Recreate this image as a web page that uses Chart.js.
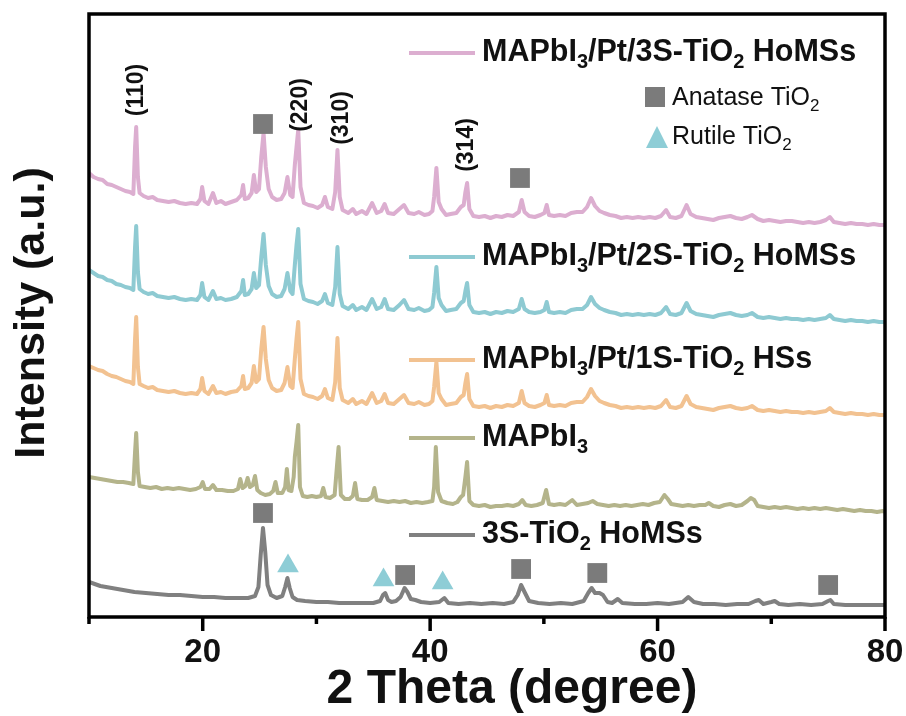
<!DOCTYPE html>
<html>
<head>
<meta charset="utf-8">
<script src="https://cdn.jsdelivr.net/npm/chart.js@4.4.1/dist/chart.umd.min.js"></script>
<style>
  html, body { margin: 0; padding: 0; background: #ffffff; }
  #wrap { width: 906px; height: 716px; position: relative; }
  canvas { display: block; }
</style>
</head>
<body>
<div id="wrap"><canvas id="xrd" width="906" height="716"></canvas></div>
<script>
// ---- XRD patterns, [2θ (degree), intensity (a.u., stacked with offsets)] ----
const pt3S = [
  [10.0,444],[10.4,440],[10.8,438],[11.2,437],[11.6,433],[12.0,432],[12.4,430],[12.8,428],[13.2,426],[13.6,425],
  [13.9,423],[14.05,470],[14.15,490],[14.3,440],[14.45,424],[14.8,421],[15.2,419],[15.6,420],[16.0,417],[16.5,416],
  [17.0,415],[17.5,416],[18.0,414],[18.5,413],[19.0,414],[19.5,413],[19.8,418],[19.95,430],[20.15,416],[20.5,413],
  [20.9,424],[21.2,414],[21.6,416],[22.0,413],[22.5,415],[23.0,417],[23.4,422],[23.55,432],[23.7,418],[24.0,419],
  [24.3,424],[24.5,442],[24.7,425],[24.95,428],[25.15,460],[25.35,484],[25.55,450],[25.8,428],[26.1,420],[26.5,417],
  [26.9,418],[27.2,424],[27.45,440],[27.7,422],[27.9,420],[28.1,452],[28.25,470],[28.4,487],[28.6,430],[28.9,414],
  [29.3,412],[29.7,411],[30.1,409],[30.5,412],[30.75,420],[31.0,410],[31.4,408],[31.65,425],[31.85,467],[32.05,420],
  [32.3,407],[32.8,404],[33.2,408],[33.5,403],[34.0,406],[34.4,403],[34.9,414],[35.3,404],[35.7,406],[36.0,413],
  [36.3,404],[36.8,403],[37.3,408],[37.7,412],[38.1,404],[38.6,403],[39.0,405],[39.5,402],[39.9,403],[40.2,406],
  [40.35,420],[40.55,449],[40.75,415],[41.0,408],[41.4,402],[41.8,403],[42.3,404],[42.7,410],[42.95,412],[43.1,425],
  [43.25,434],[43.45,408],[43.8,401],[44.3,400],[44.8,401],[45.3,399],[45.8,401],[46.3,400],[46.8,402],[47.3,401],
  [47.8,405],[48.05,417],[48.3,405],[48.7,401],[49.2,400],[49.7,402],[50.05,404],[50.25,412],[50.45,402],[50.9,401],
  [51.4,402],[51.9,401],[52.4,404],[52.9,405],[53.4,405],[53.8,410],[54.15,419],[54.5,411],[54.9,406],[55.3,404],
  [55.8,402],[56.3,401],[56.8,399],[57.3,400],[57.8,399],[58.3,400],[58.8,399],[59.3,400],[59.8,399],[60.3,401],
  [60.75,407],[61.1,400],[61.6,399],[62.1,401],[62.55,412],[62.9,403],[63.4,400],[63.9,399],[64.4,398],[64.9,397],
  [65.4,399],[65.9,400],[66.4,401],[66.9,399],[67.4,398],[67.9,400],[68.3,402],[68.8,398],[69.3,396],[69.8,397],
  [70.3,396],[70.8,395],[71.3,396],[71.8,396],[72.3,395],[72.8,394],[73.3,395],[73.8,394],[74.3,395],[74.8,397],
  [75.15,400],[75.5,395],[76.0,394],[76.5,393],[77.0,394],[77.5,393],[78.0,393],[78.5,392],[79.0,393],[79.5,392],
  [80.0,392]
];

const pt2S = [
  [10.0,347],[10.4,344],[10.8,341],[11.2,340],[11.6,337],[12.0,336],[12.4,333],[12.8,332],[13.2,330],[13.6,329],
  [13.9,327],[14.05,370],[14.15,391],[14.3,345],[14.45,328],[14.8,325],[15.2,323],[15.6,324],[16.0,321],[16.5,320],
  [17.0,319],[17.5,320],[18.0,318],[18.5,317],[19.0,318],[19.5,317],[19.8,322],[19.95,334],[20.15,320],[20.5,317],
  [20.9,326],[21.2,318],[21.6,319],[22.0,317],[22.5,318],[23.0,320],[23.4,326],[23.55,337],[23.7,322],[24.0,323],
  [24.3,328],[24.5,344],[24.7,329],[24.95,332],[25.15,360],[25.35,383],[25.55,352],[25.8,331],[26.1,323],[26.5,320],
  [26.9,321],[27.2,328],[27.45,344],[27.7,326],[27.9,323],[28.1,352],[28.25,372],[28.4,388],[28.6,333],[28.9,318],
  [29.3,316],[29.7,315],[30.1,313],[30.5,316],[30.75,323],[31.0,314],[31.4,312],[31.65,330],[31.85,370],[32.05,323],
  [32.3,311],[32.8,308],[33.2,312],[33.5,307],[34.0,310],[34.4,307],[34.9,318],[35.3,308],[35.7,310],[36.0,318],
  [36.3,308],[36.8,307],[37.3,312],[37.7,317],[38.1,308],[38.6,307],[39.0,309],[39.5,306],[39.9,307],[40.2,310],
  [40.35,324],[40.55,350],[40.75,319],[41.0,312],[41.4,306],[41.8,307],[42.3,308],[42.7,314],[42.95,316],[43.1,326],
  [43.25,334],[43.45,312],[43.8,305],[44.3,304],[44.8,305],[45.3,303],[45.8,305],[46.3,304],[46.8,306],[47.3,305],
  [47.8,308],[48.05,318],[48.3,308],[48.7,305],[49.2,304],[49.7,305],[50.05,307],[50.25,315],[50.45,305],[50.9,304],
  [51.4,305],[51.9,304],[52.4,307],[52.9,308],[53.4,308],[53.8,312],[54.15,320],[54.5,313],[54.9,309],[55.3,307],
  [55.8,305],[56.3,304],[56.8,302],[57.3,303],[57.8,302],[58.3,303],[58.8,302],[59.3,303],[59.8,302],[60.3,304],
  [60.75,310],[61.1,303],[61.6,302],[62.1,304],[62.55,314],[62.9,306],[63.4,303],[63.9,302],[64.4,301],[64.9,300],
  [65.4,302],[65.9,303],[66.4,304],[66.9,302],[67.4,301],[67.9,302],[68.3,304],[68.8,300],[69.3,299],[69.8,300],
  [70.3,299],[70.8,298],[71.3,299],[71.8,298],[72.3,298],[72.8,297],[73.3,298],[73.8,297],[74.3,298],[74.8,299],
  [75.15,302],[75.5,298],[76.0,297],[76.5,296],[77.0,297],[77.5,296],[78.0,296],[78.5,295],[79.0,296],[79.5,295],
  [80.0,295]
];

const pt1S = [
  [10.0,251],[10.4,249],[10.8,247],[11.2,246],[11.6,243],[12.0,241],[12.4,240],[12.8,238],[13.2,236],[13.6,235],
  [13.9,233],[14.05,278],[14.15,300],[14.3,250],[14.45,233],[14.8,231],[15.2,229],[15.6,230],[16.0,227],[16.5,226],
  [17.0,225],[17.5,226],[18.0,224],[18.5,223],[19.0,224],[19.5,223],[19.8,228],[19.95,239],[20.15,226],[20.5,223],
  [20.9,231],[21.2,224],[21.6,225],[22.0,223],[22.5,225],[23.0,226],[23.4,231],[23.55,241],[23.7,228],[24.0,229],
  [24.3,234],[24.5,251],[24.7,235],[24.95,238],[25.15,268],[25.35,290],[25.55,258],[25.8,237],[26.1,229],[26.5,226],
  [26.9,227],[27.2,234],[27.45,250],[27.7,231],[27.9,229],[28.1,258],[28.25,278],[28.4,295],[28.6,238],[28.9,223],
  [29.3,221],[29.7,220],[30.1,218],[30.5,221],[30.75,228],[31.0,219],[31.4,217],[31.65,235],[31.85,279],[32.05,229],
  [32.3,217],[32.8,214],[33.2,218],[33.5,213],[34.0,216],[34.4,213],[34.9,224],[35.3,214],[35.7,216],[36.0,223],
  [36.3,214],[36.8,213],[37.3,218],[37.7,222],[38.1,214],[38.6,213],[39.0,215],[39.5,212],[39.9,213],[40.2,216],
  [40.35,230],[40.55,255],[40.75,224],[41.0,218],[41.4,212],[41.8,213],[42.3,214],[42.7,220],[42.95,222],[43.1,234],
  [43.25,243],[43.45,218],[43.8,211],[44.3,210],[44.8,211],[45.3,209],[45.8,211],[46.3,210],[46.8,212],[47.3,211],
  [47.8,214],[48.05,226],[48.3,214],[48.7,211],[49.2,210],[49.7,212],[50.05,214],[50.25,222],[50.45,212],[50.9,211],
  [51.4,212],[51.9,211],[52.4,214],[52.9,215],[53.4,215],[53.8,220],[54.15,228],[54.5,221],[54.9,216],[55.3,214],
  [55.8,212],[56.3,211],[56.8,209],[57.3,210],[57.8,209],[58.3,210],[58.8,209],[59.3,210],[59.8,209],[60.3,211],
  [60.75,217],[61.1,210],[61.6,209],[62.1,211],[62.55,221],[62.9,213],[63.4,210],[63.9,209],[64.4,208],[64.9,207],
  [65.4,209],[65.9,210],[66.4,211],[66.9,209],[67.4,208],[67.9,209],[68.3,211],[68.8,207],[69.3,206],[69.8,207],
  [70.3,206],[70.8,205],[71.3,206],[71.8,205],[72.3,205],[72.8,204],[73.3,205],[73.8,204],[74.3,205],[74.8,206],
  [75.15,209],[75.5,205],[76.0,204],[76.5,203],[77.0,204],[77.5,203],[78.0,203],[78.5,202],[79.0,203],[79.5,202],
  [80.0,202]
];

const mapbi3 = [
  [10.0,140],[10.5,139],[11.0,138],[11.5,137],[12.0,136],[12.5,135],[13.0,135],[13.5,134],[13.9,133],[14.05,165],
  [14.15,184],[14.3,145],[14.45,131],[14.9,130],[15.4,129],[15.9,130],[16.4,128],[16.9,129],[17.4,128],[17.9,129],
  [18.4,128],[18.9,127],[19.4,128],[19.8,130],[20.0,135],[20.2,128],[20.6,128],[20.9,132],[21.2,127],[21.7,127],
  [22.2,126],[22.7,126],[23.1,128],[23.3,138],[23.5,129],[23.75,131],[23.95,139],[24.15,130],[24.4,132],[24.6,141],
  [24.8,127],[25.1,124],[25.5,122],[25.9,123],[26.2,126],[26.4,135],[26.6,124],[27.0,124],[27.25,130],[27.4,148],
  [27.55,127],[27.8,126],[28.0,140],[28.1,160],[28.25,175],[28.4,192],[28.55,130],[28.8,121],[29.2,120],[29.6,121],
  [30.0,120],[30.4,121],[30.6,129],[30.8,120],[31.2,119],[31.6,122],[31.8,150],[31.95,170],[32.15,122],[32.5,118],
  [32.9,118],[33.2,121],[33.4,134],[33.6,118],[34.0,117],[34.5,117],[34.9,120],[35.1,129],[35.3,117],[35.8,116],
  [36.3,115],[36.8,116],[37.3,115],[37.8,116],[38.3,114],[38.8,115],[39.3,114],[39.8,115],[40.2,116],[40.35,130],
  [40.5,170],[40.7,125],[41.0,116],[41.5,114],[42.0,113],[42.4,115],[42.7,120],[42.9,122],[43.1,140],[43.25,155],
  [43.45,116],[43.8,112],[44.3,111],[44.8,112],[45.3,110],[45.8,111],[46.3,111],[46.8,112],[47.3,111],[47.8,113],
  [48.1,117],[48.4,112],[48.9,111],[49.4,112],[49.9,114],[50.2,127],[50.45,113],[50.9,112],[51.4,113],[51.9,112],
  [52.5,117],[52.9,112],[53.4,113],[53.9,114],[54.3,116],[54.7,113],[55.2,112],[55.7,111],[56.2,112],[56.7,111],
  [57.2,112],[57.7,111],[58.2,112],[58.7,113],[59.2,112],[59.7,114],[60.2,115],[60.6,122],[60.9,118],[61.2,113],
  [61.7,112],[62.2,111],[62.7,112],[63.2,111],[63.7,112],[64.2,112],[64.5,114],[64.9,111],[65.4,110],[65.9,112],
  [66.4,113],[66.9,111],[67.4,112],[67.9,116],[68.2,119],[68.5,117],[68.8,111],[69.3,110],[69.8,109],[70.3,110],
  [70.8,109],[71.3,110],[71.8,109],[72.3,108],[72.8,109],[73.3,108],[73.8,109],[74.3,108],[74.8,109],[75.3,108],
  [75.8,107],[76.3,108],[76.8,107],[77.3,106],[77.8,107],[78.3,106],[78.8,106],[79.3,105],[79.8,106],[80.0,105]
];

const tio2 = [
  [10.0,35],[10.5,33],[11.0,31],[11.5,30],[12.0,29],[12.5,28],[13.0,27],[13.5,26],[14.0,25],[15.0,24],
  [16.0,23],[17.0,22],[18.0,22],[19.0,21],[20.0,20],[21.0,20],[22.0,19],[23.0,19],[24.0,19],[24.6,21],
  [24.9,30],[25.1,62],[25.3,89],[25.5,65],[25.7,32],[26.0,22],[26.5,19],[27.0,21],[27.25,30],[27.45,39],
  [27.65,29],[27.9,20],[28.3,17],[29.0,16],[30.0,15],[31.0,15],[32.0,14],[33.0,14],[34.0,14],[35.0,14],
  [35.6,16],[35.85,22],[36.05,24],[36.3,17],[36.6,15],[37.0,16],[37.4,20],[37.75,29],[38.0,25],[38.3,18],
  [38.7,17],[39.2,15],[40.0,14],[40.8,15],[41.25,19],[41.6,14],[42.5,13],[43.5,14],[44.5,13],[45.5,14],
  [46.5,13],[47.3,15],[47.7,22],[48.0,32],[48.3,25],[48.7,16],[49.5,14],[50.5,13],[51.5,14],[52.5,13],
  [53.5,16],[53.9,24],[54.2,29],[54.5,24],[54.9,24],[55.2,22],[55.6,15],[56.0,14],[56.5,18],[56.9,14],
  [58.0,13],[59.0,13],[60.0,14],[61.0,13],[62.2,15],[62.7,20],[63.2,15],[64.0,13],[65.0,13],[66.0,12],
  [67.0,13],[68.0,13],[68.6,16],[68.9,17],[69.3,13],[70.0,15],[70.3,16],[70.7,13],[71.5,12],[72.5,13],
  [73.5,12],[74.5,13],[75.0,16],[75.2,17],[75.5,13],[76.5,12],[77.5,12],[78.5,12],[79.5,12],[80.0,12]
];

// phase markers placed above their reflections
const anataseMarks = [[25.3,493],[47.9,439],[25.3,104],[37.8,42],[48.0,48],[54.7,44],[75.0,32]];
const rutileMarks  = [[27.5,51],[35.9,37],[41.1,34]];

// Miller indices of the perovskite reflections
const hklLabels = ['(110)', '(220)', '(310)', '(314)'];
const hklTheta  = [14.2, 28.65, 32.25, 43.25];
const hklLevel  = [527, 512, 499, 472];

// x-axis
const xMin = 10, xMax = 80, xStep = 10, xLabelStep = 20;

// legend names ("_" marks a subscript character)
const seriesNames = [
  'MAPbI_3/Pt/3S-TiO_2 HoMSs',
  'MAPbI_3/Pt/2S-TiO_2 HoMSs',
  'MAPbI_3/Pt/1S-TiO_2 HSs',
  'MAPbI_3',
  '3S-TiO_2 HoMSs'
];
const seriesColors = ['#dcaed0', '#8ecad2', '#f2c291', '#b4b48b', '#808080'];
const seriesData = [pt3S, pt2S, pt1S, mapbi3, tio2];
const legendY = [53, 257, 360, 438, 535];

const squareColor = '#7b7b7b';
const triangleColor = '#8ecdd6';

const FONT = '"Liberation Sans", Arial, Helvetica, sans-serif';

function toXY(arr) { return arr.map(p => ({ x: p[0], y: p[1] })); }

// draw a label with single-character subscripts written as "_c"
function drawRich(ctx, text, x, y, size, weight) {
  const subSize = Math.round(size * 0.66);
  let cx = x;
  let i = 0;
  ctx.textBaseline = 'middle';
  ctx.textAlign = 'left';
  while (i < text.length) {
    if (text[i] === '_') {
      ctx.font = `${weight} ${subSize}px ${FONT}`;
      ctx.fillText(text[i + 1], cx, y + size * 0.32);
      cx += ctx.measureText(text[i + 1]).width;
      i += 2;
    } else {
      let j = i;
      while (j < text.length && text[j] !== '_') j++;
      const chunk = text.slice(i, j);
      ctx.font = `${weight} ${size}px ${FONT}`;
      ctx.fillText(chunk, cx, y);
      cx += ctx.measureText(chunk).width;
      i = j;
    }
  }
}

const decorations = {
  id: 'decorations',
  afterDatasetsDraw(chart) {
    const { ctx, chartArea: a, scales: { x, y } } = chart;
    ctx.save();

    // frame
    ctx.strokeStyle = '#000';
    ctx.lineWidth = 3.5;
    ctx.strokeRect(a.left, a.top, a.right - a.left, a.bottom - a.top);

    // bottom tick marks: long at labelled values, short in between
    ctx.lineWidth = 3.5;
    for (let v = xMin; v <= xMax; v += xStep) {
      const px = x.getPixelForValue(v);
      const len = (v % xLabelStep === 0) ? 14 : 7;
      ctx.beginPath();
      ctx.moveTo(px, a.bottom);
      ctx.lineTo(px, a.bottom + len);
      ctx.stroke();
    }

    // legend entries inside the plot
    seriesNames.forEach((name, k) => {
      ctx.strokeStyle = seriesColors[k];
      ctx.lineWidth = 4;
      ctx.beginPath();
      ctx.moveTo(409, legendY[k]);
      ctx.lineTo(475, legendY[k]);
      ctx.stroke();
      ctx.fillStyle = '#111';
      drawRich(ctx, name, 482, legendY[k], 30.5, 'bold');
    });

    // phase key
    ctx.fillStyle = squareColor;
    ctx.fillRect(645, 87, 20, 20);
    ctx.fillStyle = triangleColor;
    ctx.beginPath();
    ctx.moveTo(657, 126);
    ctx.lineTo(668, 148);
    ctx.lineTo(646, 148);
    ctx.closePath();
    ctx.fill();
    ctx.fillStyle = '#111';
    drawRich(ctx, 'Anatase TiO_2', 672, 98, 25, 'normal');
    drawRich(ctx, 'Rutile TiO_2', 672, 137, 25, 'normal');

    // reflection indices
    ctx.font = `bold 23px ${FONT}`;
    ctx.textAlign = 'center';
    ctx.textBaseline = 'middle';
    hklLabels.forEach((lab, k) => {
      ctx.save();
      ctx.translate(x.getPixelForValue(hklTheta[k]), y.getPixelForValue(hklLevel[k]));
      ctx.rotate(-Math.PI / 2);
      ctx.fillText(lab, 0, 0);
      ctx.restore();
    });

    // axis titles
    ctx.fillStyle = '#111';
    ctx.font = `bold 48px ${FONT}`;
    ctx.textAlign = 'center';
    ctx.textBaseline = 'middle';
    ctx.fillText('2 Theta (degree)', 512, 690);

    ctx.save();
    ctx.translate(32, 313);
    ctx.rotate(-Math.PI / 2);
    ctx.font = `bold 43px ${FONT}`;
    ctx.fillText('Intensity (a.u.)', 0, 0);
    ctx.restore();

    ctx.restore();
  }
};

const lineSets = seriesData.map((d, k) => ({
  type: 'line',
  label: seriesNames[k],
  data: toXY(d),
  borderColor: seriesColors[k],
  borderWidth: 4,
  borderJoinStyle: 'round',
  borderCapStyle: 'round',
  pointRadius: 0,
  tension: 0,
  fill: false,
  order: 2
}));

new Chart(document.getElementById('xrd'), {
  data: {
    datasets: [
      {
        type: 'scatter', label: 'Anatase TiO2', data: toXY(anataseMarks),
        pointStyle: 'rect', pointRadius: 14, pointBackgroundColor: squareColor,
        pointBorderWidth: 0, order: 0
      },
      {
        type: 'scatter', label: 'Rutile TiO2', data: toXY(rutileMarks),
        pointStyle: 'triangle', pointRadius: 12.5, pointBackgroundColor: triangleColor,
        pointBorderWidth: 0, order: 0
      },
      ...lineSets
    ]
  },
  options: {
    responsive: false,
    animation: false,
    devicePixelRatio: 1,
    layout: { padding: { left: 89, right: 21, top: 14, bottom: 0 } },
    plugins: { legend: { display: false }, tooltip: { enabled: false } },
    scales: {
      x: {
        type: 'linear', min: xMin, max: xMax,
        afterFit(scale) {
          scale.height = 99;
          scale.paddingLeft = 0;
          scale.paddingRight = 0;
        },
        grid: { display: false, drawTicks: false },
        border: { display: false },
        ticks: {
          stepSize: xStep, autoSkip: false, maxRotation: 0, padding: 19,
          color: '#111',
          font: { family: FONT, size: 33, weight: 'bold', lineHeight: 1 },
          callback: (v) => (v % xLabelStep === 0 && v > xMin) ? String(v) : ''
        }
      },
      y: { display: false, min: 0, max: 603 }
    }
  },
  plugins: [decorations]
});
</script>
</body>
</html>
